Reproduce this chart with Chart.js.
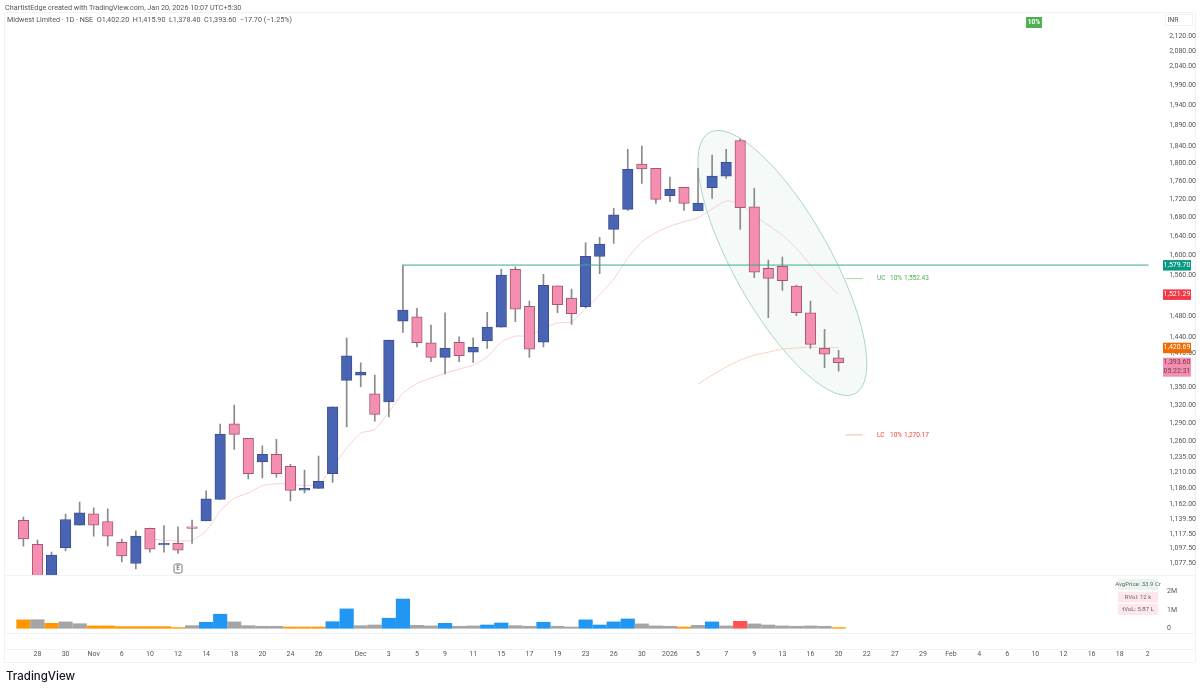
<!DOCTYPE html>
<html>
<head>
<meta charset="utf-8">
<title>Midwest Limited</title>
<script src="https://cdn.jsdelivr.net/npm/chart.js@4"></script>
<style>
  html, body { margin: 0; padding: 0; background: #fff; }
  body { width: 1200px; height: 690px; position: relative; overflow: hidden; font-family: Roboto, sans-serif; }
  canvas { position: absolute; left: 0; top: 0; }
  .txt { position: absolute; white-space: nowrap; color: #555; }
  #credit { left: 5px; top: 3px; font-size: 7.2px; }
  #legend { left: 7px; top: 15px; font-size: 7.2px; }
  #logo { left: 6px; top: 669px; font: 500 11.5px Inter, sans-serif; color: #131722; }
</style>
</head>
<body>
<canvas id="chart" width="1200" height="690"></canvas>
<div class="txt" id="credit">ChartistEdge created with TradingView.com, Jan 20, 2026 10:07 UTC+5:30</div>
<div class="txt" id="legend">Midwest Limited · 1D · NSE &nbsp;O1,402.20 &nbsp;H1,415.90 &nbsp;L1,378.40 &nbsp;C1,393.60 &nbsp;−17.70 (−1.25%)</div>
<div class="txt" id="logo">TradingView</div>
<script>
// daily candles, oldest first
const opens = [1138,1103.5,1055,1098.6,1131.1,1147.7,1136.5,1106.3,1076.8,1126.4,1102.9,1104.9,1128.6,1137.4,1169.2,1288.4,1264.5,1227,1238.8,1219.8,1183.2,1185.8,1208.3,1362.3,1371.6,1339,1325.3,1470.1,1478.2,1429.7,1403.1,1430.4,1412.6,1433.3,1458.8,1571,1498.1,1430.9,1538.1,1514.2,1497.5,1597.5,1653.9,1696.9,1798.6,1788.7,1726.8,1745.4,1693.9,1744.6,1771,1853.4,1702.6,1573,1577,1537.6,1485.9,1419.4,1402.2];
const highs = [1142.8,1109.6,1092.6,1147.3,1165.1,1156.6,1155.1,1111,1122.9,1126.8,1130.7,1128.6,1138.4,1182.1,1287.9,1319.7,1264.5,1252.5,1262.8,1223,1214,1236,1316.8,1438.3,1393.4,1371.6,1434.6,1579.7,1494.2,1462.6,1485.9,1440.7,1438.9,1486.7,1571,1576.3,1508.3,1561,1538.1,1531.8,1625.6,1636.9,1699,1833,1840.8,1788.7,1768.8,1745.4,1788.7,1819.6,1833,1857.4,1743.3,1589.9,1596,1539.6,1508.3,1454.6,1415.9];
const lows = [1101,1045,1045,1094.4,1131.1,1115.3,1101.4,1079,1069.4,1092.6,1092.6,1090.8,1104.9,1137.4,1169.2,1246.7,1200.5,1202,1203.1,1167,1179.1,1185.8,1195,1283.4,1351.1,1292.8,1300,1449,1422.3,1395.2,1373.4,1395.2,1394.1,1419.4,1458.8,1468.8,1403.1,1422.3,1485.9,1464,1495.2,1562.2,1624.4,1694.7,1754.5,1710.1,1713.6,1694.7,1693.9,1721,1765.8,1653.9,1554.4,1476.4,1529.2,1480.3,1419.4,1384.5,1378.4];
const closes = [1111.4,1055,1088.4,1139.4,1149.2,1131.1,1115.3,1087.4,1115.3,1096.8,1104.9,1095.4,1126.4,1170,1271.5,1271,1208.3,1238.8,1208.3,1182.7,1185.8,1196.5,1316.8,1406,1376.9,1304,1434.6,1491,1429.7,1403.1,1420,1406,1421.2,1458.8,1559.6,1492.9,1418.1,1539.2,1501.2,1483.9,1597.5,1622.9,1685,1786.4,1787.1,1718.9,1741,1710.1,1710.7,1771,1802.5,1700.4,1565.6,1553,1548.2,1485.9,1426.7,1409,1393.6];
const volumes = [460000,470000,270000,350000,250000,130000,130000,90000,90000,90000,90000,40000,145000,330000,770000,350000,145000,110000,110000,70000,70000,70000,360000,1060000,145000,180000,550000,1600000,160000,130000,270000,110000,130000,180000,290000,145000,110000,330000,110000,70000,460000,180000,350000,510000,240000,130000,110000,70000,160000,350000,130000,380000,240000,180000,130000,110000,130000,110000,40000];
const volumeKinds = ['o','g','o','g','g','o','o','o','o','o','o','o','g','b','b','g','g','g','g','o','o','o','b','b','g','g','b','b','g','g','b','g','g','b','b','g','g','b','g','g','b','b','b','b','g','g','g','o','g','b','g','r','g','g','g','g','g','g','o'];

// the two pale curves, null where nothing is drawn
const upperCurve = [null,null,null,null,null,null,null,null,null,1111,1109.6,1108.2,1109.6,1122.9,1151.7,1171,1178.7,1190,1193,1192.6,1190.2,1192.6,1219.2,1248.8,1273.1,1278.8,1307.9,1339.7,1357,1366.3,1374.6,1382.2,1389.3,1404,1431,1442,1442,1456.9,1466.4,1468.8,1494.3,1520,1551.6,1594,1627.7,1647,1660.5,1670,1678.8,1697.6,1715,1708.5,1684.6,1663.1,1641.8,1614,1579.7,1547.6,1521.29];
const lowerCurve = [null,null,null,null,null,null,null,null,null,null,null,null,null,null,null,null,null,null,null,null,null,null,null,null,null,null,null,null,null,null,null,null,null,null,null,null,null,null,null,null,null,null,null,null,null,null,null,null,1355.8,1371.6,1385.7,1398.2,1407.2,1412.7,1418.1,1420,1421.8,1420.9,1420.69];

// axes
const priceTicks = [2120,2080,2040,1990,1940,1890,1840,1800,1760,1720,1680,1640,1600,1560,1480,1440,1410,1350,1320,1290,1260,1235,1210,1186,1162,1139.5,1117.5,1097.5,1077.5];
const volumeTicks = [0,1000000,2000000];
const volumeTickLabels = ['0','1M','2M'];
const timeTickBars = [1,3,5,7,9,11,13,15,17,19,21,24,26,28,30,32,34,36,38,40,42,44,46,48,50,52,54,56,58,60,62,64,66,68,70,72,74,76,78,80];
const timeTickLabels = ['28','30','Nov','6','10','12','14','18','20','24','26','Dec','3','5','9','11','15','17','19','23','26','30','2026','5','7','9','13','16','20','22','27','29','Feb','4','6','10','12','16','18','2'];

// level line and the channel read-outs
const levelPrice = 1579.7;
const levelFromBar = 27;
const ucPrice = 1552.43;
const lcPrice = 1270.17;

const PINK = '#f48fb1', PINK_EDGE = '#a8566f', BLUE = '#4a64b4', BLUE_EDGE = '#3c4f94';
const KIND_COLORS = { o: '#ff9800', g: '#a5a5a5', b: '#2196f3', r: '#ff5252' };
const AXIS_FONT = { family: 'Roboto, sans-serif', size: 7 };
const AXIS_TEXT = '#555';
const LINE_COLOR = '#eff2f8';
const LAST_BAR = 80.05;

const isUp = i => closes[i] >= opens[i];
const bars = arr => arr.map((v, i) => ({ x: i, y: v }));
const money = v => v.toLocaleString('en-US', { minimumFractionDigits: 2, maximumFractionDigits: 2 });

// TradingView-style badge sitting on the price axis
function axisBadge(ctx, top, lines, bg, fg) {
  const h = lines.length * 8.5 + 2;
  ctx.fillStyle = bg;
  ctx.fillRect(1163, top, 28, h);
  ctx.fillStyle = fg;
  ctx.font = '7px Roboto, sans-serif';
  ctx.textAlign = 'center';
  ctx.textBaseline = 'middle';
  lines.forEach((t, i) => ctx.fillText(t, 1177, top + 5 + i * 8.5));
}

// ellipse under the candles, anchored in price and bar space
const ellipsePlugin = {
  id: 'ellipse',
  beforeDatasetsDraw(chart) {
    const { ctx, scales } = chart;
    ctx.save();
    ctx.beginPath();
    ctx.ellipse(scales.x.getPixelForValue(54), scales.y.getPixelForValue(1584), 149.5, 48.4, 60.7 * Math.PI / 180, 0, Math.PI * 2);
    ctx.fillStyle = 'rgba(120,190,160,0.07)';
    ctx.fill();
    ctx.strokeStyle = '#a9d5c6';
    ctx.lineWidth = 1;
    ctx.stroke();
    ctx.restore();
  }
};

const framePlugin = {
  id: 'frame',
  beforeDraw(chart) {
    const { ctx } = chart;
    ctx.save();
    ctx.strokeStyle = LINE_COLOR;
    ctx.lineWidth = 1;
    ctx.beginPath();
    // pane outlines
    [12.5, 575.5, 633.5, 649.5, 662.5].forEach(y => { ctx.moveTo(4, y); ctx.lineTo(1195, y); });
    ctx.moveTo(4.5, 12); ctx.lineTo(4.5, 662);
    ctx.moveTo(1195.5, 12); ctx.lineTo(1195.5, 662);
    ctx.stroke();
    ctx.restore();
  },
  afterDraw(chart) {
    const { ctx, scales } = chart;
    const y = scales.y, x = scales.x;
    ctx.save();

    // price badges
    axisBadge(ctx, y.getPixelForValue(levelPrice) - 5, [money(levelPrice)], '#089981', '#fff');
    axisBadge(ctx, y.getPixelForValue(upperCurve[58]) - 5, [money(upperCurve[58])], '#f23645', '#fff');
    axisBadge(ctx, y.getPixelForValue(lowerCurve[58]) - 5, [money(lowerCurve[58])], '#ef6c00', '#fff');
    axisBadge(ctx, y.getPixelForValue(closes[58]) - 5, [money(closes[58]), '05:22:31'], PINK, '#6d3a4b');

    // INR box
    ctx.fillStyle = '#fff';
    ctx.strokeStyle = LINE_COLOR;
    ctx.fillRect(1165, 14, 27, 11);
    ctx.strokeRect(1165.5, 14.5, 27, 11);
    ctx.fillStyle = AXIS_TEXT;
    ctx.font = '7px Roboto, sans-serif';
    ctx.textAlign = 'center';
    ctx.textBaseline = 'middle';
    ctx.fillText('INR', 1173, 20);

    // UC / LC read-outs
    ctx.textAlign = 'left';
    ctx.font = '6.5px Roboto, sans-serif';
    ctx.fillStyle = '#4caf50';
    ctx.fillText('UC', 877, y.getPixelForValue(ucPrice));
    ctx.fillText('10%', 890, y.getPixelForValue(ucPrice));
    ctx.fillText(money(ucPrice), 904, y.getPixelForValue(ucPrice));
    ctx.fillStyle = '#f44336';
    ctx.fillText('LC', 877, y.getPixelForValue(lcPrice));
    ctx.fillText('10%', 890, y.getPixelForValue(lcPrice));
    ctx.fillText(money(lcPrice), 904, y.getPixelForValue(lcPrice));

    // 10% flag
    ctx.fillStyle = '#4caf50';
    ctx.fillRect(1026, 17, 16, 11);
    ctx.fillStyle = '#fff';
    ctx.font = '700 6.5px Roboto, sans-serif';
    ctx.textAlign = 'center';
    ctx.fillText('10%', 1034, 22.5);

    // earnings marker
    const ex = x.getPixelForValue(11);
    ctx.fillStyle = '#fff';
    ctx.strokeStyle = '#777';
    ctx.lineWidth = 1;
    ctx.beginPath();
    ctx.roundRect(ex - 4, 564, 8, 9, 1.5);
    ctx.fill();
    ctx.stroke();
    ctx.fillStyle = '#444';
    ctx.font = '6.5px Roboto, sans-serif';
    ctx.fillText('E', ex, 568.8);

    // volume stat boxes
    const statRows = [
      ['AvgPrice: 33.9 Cr', '#e8f5ee', 584.5],
      ['RVol: 12 k', '#fde7ec', 597],
      ['tVoL: 5.87 L', '#fde7ec', 609.5]
    ];
    statRows.forEach(([t, bg, yy]) => {
      ctx.fillStyle = bg;
      ctx.fillRect(1118, yy - 5.5, 40, 11);
      ctx.fillStyle = '#666';
      ctx.font = '6px Roboto, sans-serif';
      ctx.fillText(t, 1138, yy);
    });
    ctx.restore();
  }
};

new Chart(document.getElementById('chart'), {
  data: {
    datasets: [
      { type: 'line', order: 4, xAxisID: 'x', yAxisID: 'y', data: bars(upperCurve), borderColor: '#f9cdd5', borderWidth: 1, pointRadius: 0, tension: 0.2, spanGaps: false },
      { type: 'line', order: 4, xAxisID: 'x', yAxisID: 'y', data: bars(lowerCurve), borderColor: '#f7d2c0', borderWidth: 1, pointRadius: 0, tension: 0.2, spanGaps: false },
      // wicks first, bodies on top
      { type: 'bar', order: 3, xAxisID: 'x', yAxisID: 'y', grouped: false, barThickness: 1, data: highs.map((h, i) => ({ x: i, y: [lows[i], h] })), backgroundColor: '#8a8a8a' },
      { type: 'bar', order: 2, xAxisID: 'x', yAxisID: 'y', grouped: false, barThickness: 10.5,
        data: opens.map((o, i) => ({ x: i, y: [o, closes[i]] })),
        backgroundColor: opens.map((_, i) => isUp(i) ? BLUE : PINK),
        borderColor: opens.map((_, i) => isUp(i) ? BLUE_EDGE : PINK_EDGE),
        borderWidth: 1, borderSkipped: false },
      { type: 'bar', order: 2, xAxisID: 'x', yAxisID: 'vol', grouped: false, barThickness: 13.5, data: bars(volumes), backgroundColor: volumeKinds.map(k => KIND_COLORS[k]) },
      { type: 'line', order: 1, xAxisID: 'x', yAxisID: 'y', data: [{ x: levelFromBar, y: levelPrice }, { x: LAST_BAR, y: levelPrice }], borderColor: '#3fa796', borderWidth: 1, pointRadius: 0 },
      { type: 'line', order: 1, xAxisID: 'x', yAxisID: 'y', data: [{ x: 58.5, y: ucPrice }, { x: 59.7, y: ucPrice }], borderColor: '#a5d6a7', borderWidth: 1, pointRadius: 0 },
      { type: 'line', order: 1, xAxisID: 'x', yAxisID: 'y', data: [{ x: 58.5, y: lcPrice }, { x: 59.7, y: lcPrice }], borderColor: '#f5b5b0', borderWidth: 1, pointRadius: 0 }
    ]
  },
  options: {
    responsive: false,
    animation: false,
    events: [],
    layout: { padding: { left: 4, right: 4, top: 12.7, bottom: 28 } },
    plugins: { legend: { display: false }, tooltip: { enabled: false } },
    scales: {
      x: {
        type: 'linear', position: 'bottom', min: -0.35, max: LAST_BAR,
        grid: { display: false, drawTicks: false }, border: { display: false },
        afterBuildTicks(scale) { scale.ticks = timeTickBars.map(v => ({ value: v })); },
        afterFit(scale) { scale.height = 29; },
        ticks: {
          autoSkip: false, maxRotation: 0, padding: 17, font: AXIS_FONT, color: AXIS_TEXT,
          callback(v) { return timeTickLabels[timeTickBars.indexOf(v)]; }
        }
      },
      y: {
        type: 'logarithmic', position: 'right', stack: 'panes', stackWeight: 562.3, weight: 0,
        bounds: 'data', min: 1061, max: 2184.4,
        grid: { display: false, drawTicks: false }, border: { display: false },
        afterBuildTicks(scale) { scale.ticks = priceTicks.map(v => ({ value: v })); },
        afterFit(scale) { scale.width = 33; },
        ticks: {
          autoSkip: false, padding: 2, crossAlign: 'far', font: AXIS_FONT, color: AXIS_TEXT,
          callback(v) { return money(v); }
        }
      },
      vol: {
        type: 'linear', position: 'right', stack: 'panes', stackWeight: 58, weight: 1,
        min: -257000, max: 2912000,
        grid: { display: false, drawTicks: false }, border: { display: false },
        afterBuildTicks(scale) { scale.ticks = volumeTicks.map(v => ({ value: v })); },
        afterFit(scale) { scale.width = 33; },
        ticks: {
          autoSkip: false, padding: 4, font: AXIS_FONT, color: AXIS_TEXT,
          callback(v) { return volumeTickLabels[volumeTicks.indexOf(v)]; }
        }
      }
    }
  },
  plugins: [framePlugin, ellipsePlugin]
});
</script>
</body>
</html>
